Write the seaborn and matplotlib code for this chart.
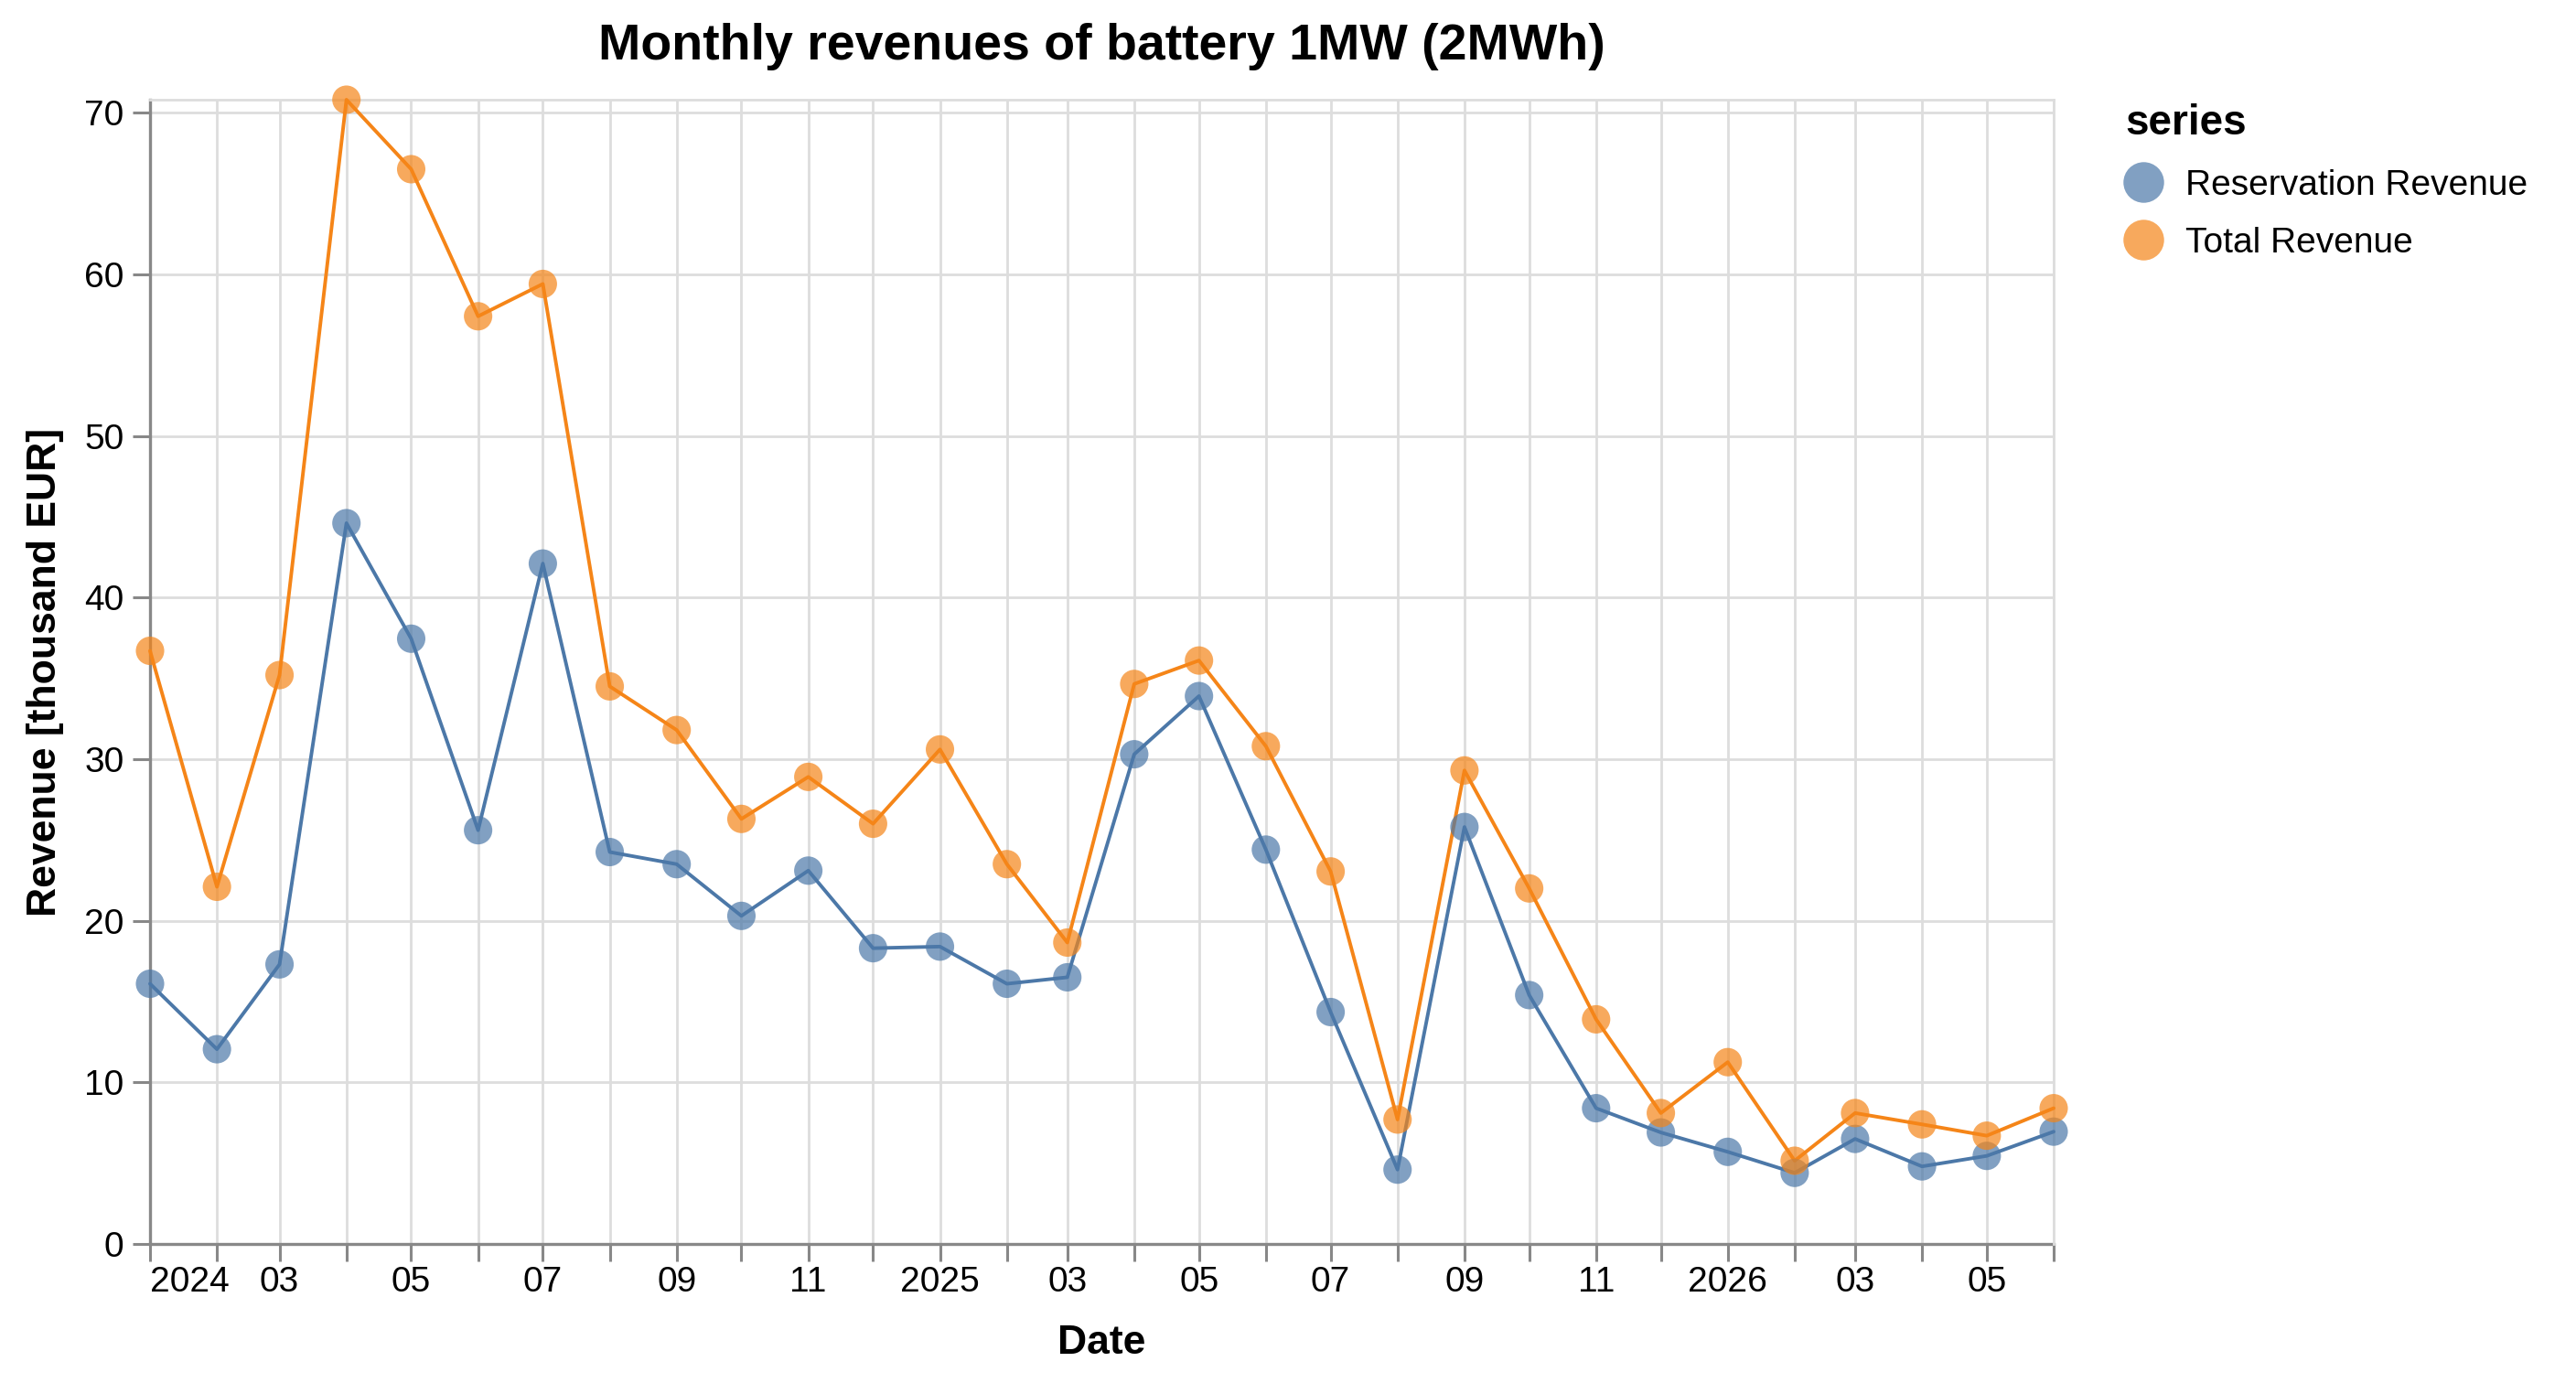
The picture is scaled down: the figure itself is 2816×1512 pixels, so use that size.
import pandas as pd
import numpy as np
import matplotlib
matplotlib.use('Agg')
import matplotlib.pyplot as plt
import matplotlib.dates as mdates
from matplotlib.lines import Line2D
import seaborn as sns

# values (thousand EUR), one per month Jan 2024 .. Jun 2026
months = pd.date_range('2024-01-01', '2026-06-01', freq='MS')
reservation = [16.1, 12.05, 17.3, 44.6, 37.45, 25.6, 42.1, 24.25, 23.5, 20.3, 23.1, 18.3,
               18.4, 16.1, 16.5, 30.3, 33.9, 24.4, 14.35, 4.6, 25.8, 15.4, 8.4, 6.9,
               5.7, 4.4, 6.5, 4.8, 5.45, 6.95]
total = [36.7, 22.1, 35.2, 70.8, 66.5, 57.4, 59.4, 34.5, 31.8, 26.3, 28.9, 26.0,
         30.6, 23.5, 18.65, 34.65, 36.1, 30.8, 23.05, 7.7, 29.3, 22.0, 13.9, 8.1,
         11.25, 5.15, 8.1, 7.4, 6.7, 8.4]
series_names = ['Reservation Revenue', 'Total Revenue']
series_colors = ['#4c78a8', '#f58518']
x_tick_labels = ['2024', '', '03', '', '05', '', '07', '', '09', '', '11', '',
                 '2025', '', '03', '', '05', '', '07', '', '09', '', '11', '',
                 '2026', '', '03', '', '05', '']
y_ticks = [0, 10, 20, 30, 40, 50, 60, 70]

df = pd.DataFrame({
    'Date': list(months) * 2,
    'series': [series_names[0]] * len(months) + [series_names[1]] * len(months),
    'value': reservation + total,
})

sns.set_theme(style='white')
plt.rcParams['font.family'] = ['Liberation Sans', 'DejaVu Sans']
plt.rcParams['text.color'] = 'black'
plt.rcParams['axes.labelcolor'] = 'black'
palette = dict(zip(series_names, series_colors))

fig = plt.figure(figsize=(14.08, 7.56), dpi=200)
ax = fig.add_axes([0.05824, 0.10053, 0.73899, 0.82738])

sns.lineplot(data=df, x='Date', y='value', hue='series', palette=palette,
             linewidth=1.4, legend=False, ax=ax, clip_on=False, zorder=3)
sns.scatterplot(data=df, x='Date', y='value', hue='series', palette=palette,
                s=125, alpha=0.7, linewidth=0, legend=False, ax=ax,
                clip_on=False, zorder=4)

# axes range
ax.set_xlim(mdates.date2num(months[0]), mdates.date2num(months[-1]))
ax.set_ylim(0, max(total))

ax.set_xticks(mdates.date2num(months))
ax.set_xticklabels(x_tick_labels)
ax.get_xticklabels()[0].set_horizontalalignment('left')
ax.set_yticks(y_ticks)
ax.set_yticklabels([str(v) for v in y_ticks])

ax.grid(True, color='#dddddd', linewidth=1.0)
ax.set_axisbelow(True)
for side in ['top', 'right']:
    ax.spines[side].set_color('#dddddd')
    ax.spines[side].set_linewidth(1.0)
for side in ['left', 'bottom']:
    ax.spines[side].set_color('#888888')
    ax.spines[side].set_linewidth(1.2)
    ax.spines[side].set_zorder(2)

ax.tick_params(axis='x', length=6.8, width=1.1, color='#888888', pad=2,
               labelsize=14, labelcolor='black', bottom=True)
ax.tick_params(axis='y', length=6.8, width=1.1, color='#888888', pad=3.5,
               labelsize=14, labelcolor='black', left=True)

ax.set_xlabel('Date', fontsize=16, fontweight='bold', va='center', color='black')
ax.xaxis.set_label_coords(0.5, -0.0871)
ax.set_ylabel('Revenue [thousand EUR]', fontsize=16, fontweight='bold', va='center',
              color='black')
ax.yaxis.set_label_coords(-0.0548, 0.5)

fig.text(0.4277, 0.966, 'Monthly revenues of battery 1MW (2MWh)',
         fontsize=20, fontweight='bold', ha='center', va='center', color='black')

handles = [Line2D([0], [0], marker='o', linestyle='', markersize=16,
                  markerfacecolor=c, markeredgewidth=0, alpha=0.7)
           for c in series_colors]
leg = fig.legend(handles, series_names, loc='upper left', bbox_to_anchor=(0.825, 0.925),
                 frameon=False, fontsize=14, title='series', borderpad=0,
                 handlelength=1.0, handletextpad=0.7, labelspacing=0.7,
                 alignment='left', borderaxespad=0)
leg.get_title().set_fontsize(16.5)
leg.get_title().set_fontweight('bold')
leg.get_title().set_color('black')
for t in leg.get_texts():
    t.set_color('black')

plt.savefig('out.png', dpi=200)
